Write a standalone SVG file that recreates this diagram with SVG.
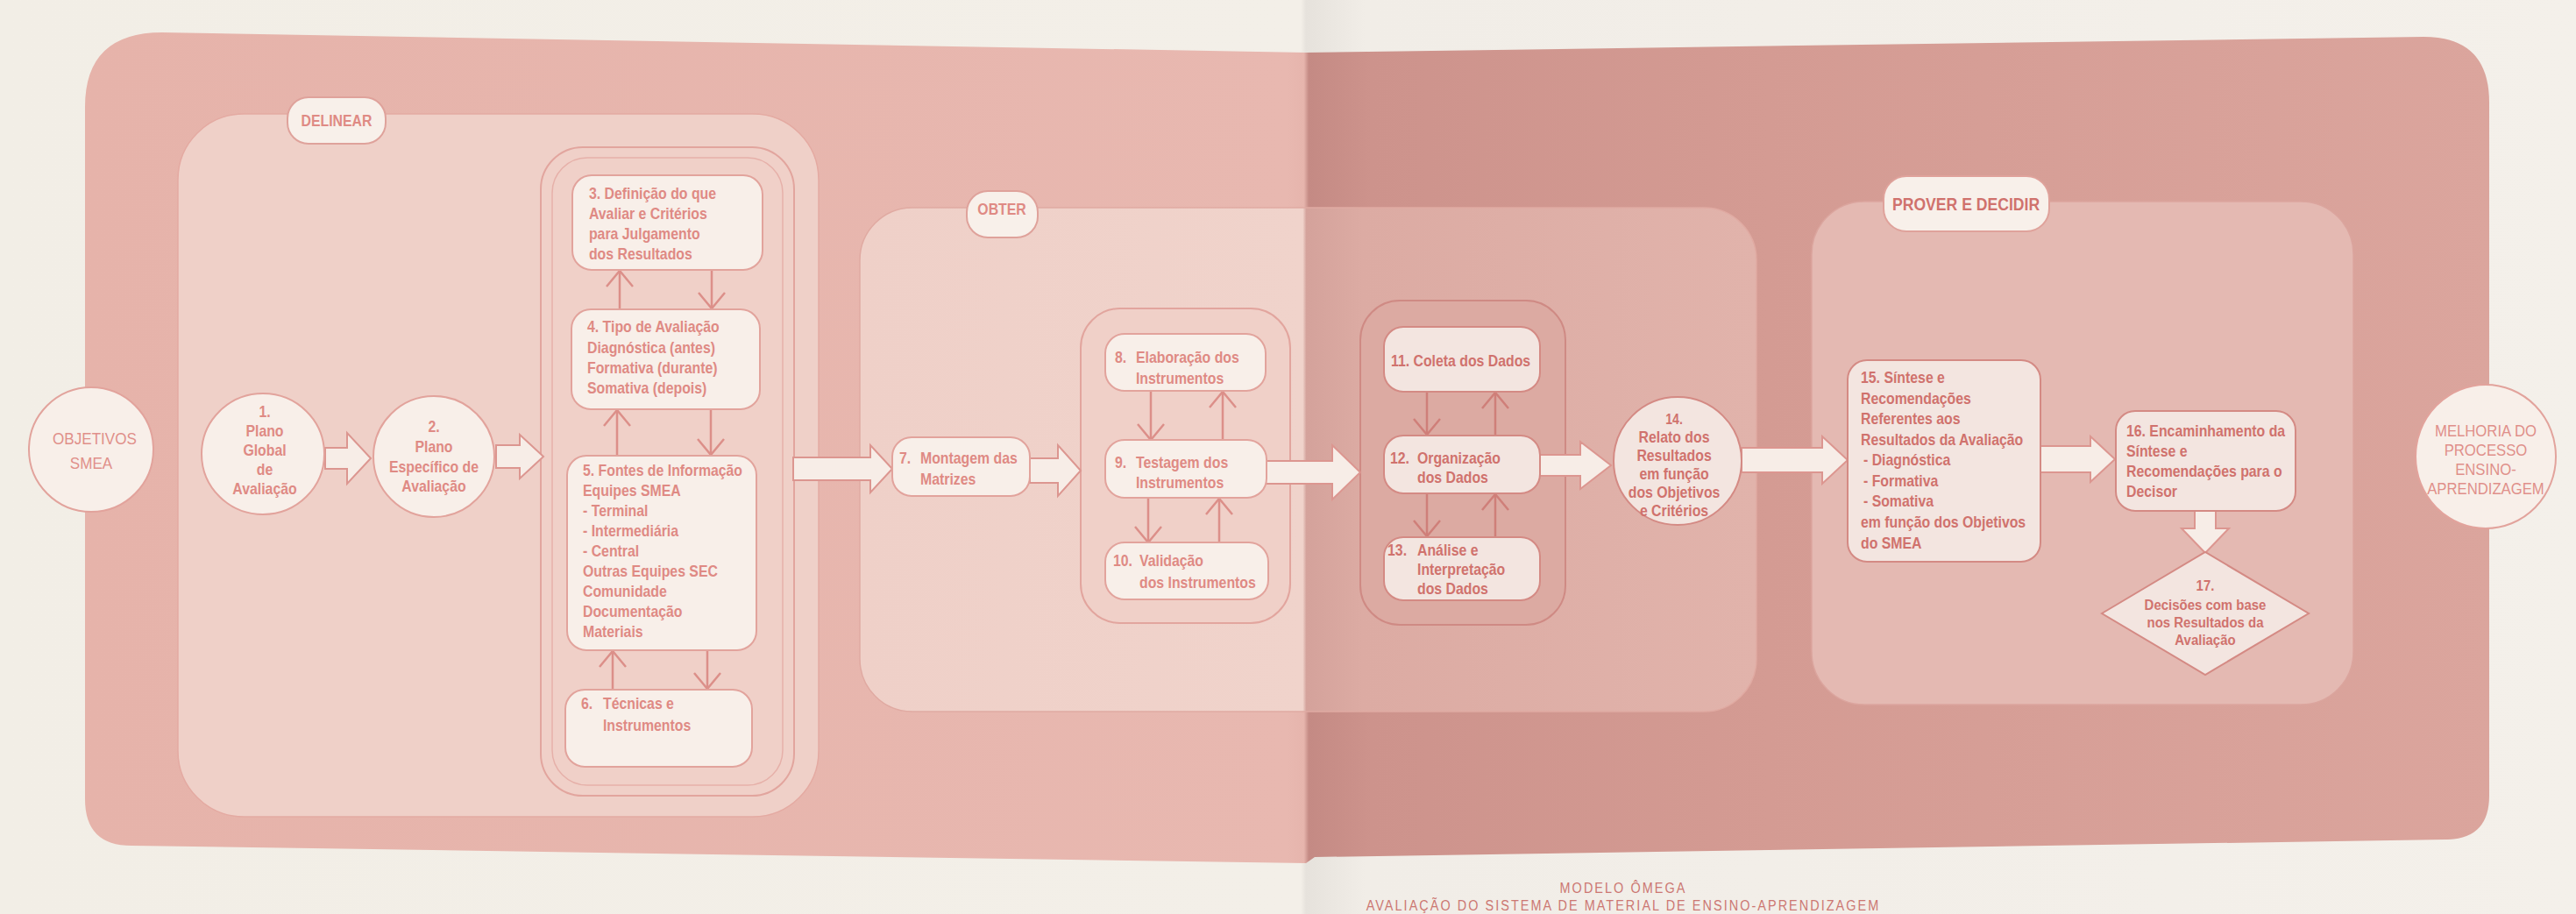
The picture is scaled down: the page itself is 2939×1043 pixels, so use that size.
<svg xmlns="http://www.w3.org/2000/svg" width="2939" height="1043" viewBox="0 0 2939 1043">
  <defs>
    <style>
      .t { font-family: "Liberation Sans", Arial, sans-serif; font-weight: bold; font-size: 18px; fill: #df8a84; }
      .tr { fill: #d0726d; }
      .c { text-anchor: middle; }
      .cap { font-family: "Liberation Sans", Arial, sans-serif; font-weight: normal; font-size: 19px; fill: #e08f8a; text-anchor: middle; }
      .foot { font-family: "Liberation Sans", Arial, sans-serif; font-size: 17px; fill: #cc7772; text-anchor: middle; letter-spacing: 2.4px; }
      .box { fill: #f8efe9; stroke: #e2a39c; stroke-width: 2; }
      .boxr { fill: #f3e5e0; stroke: #d48a84; stroke-width: 2; }
      .pill { fill: #f8f0ea; stroke: #dfa29b; stroke-width: 2; }
      .grp { fill: #f0d0c8; stroke: #e2a59e; stroke-width: 2; }
      .grpr { fill: #dcaaa2; stroke: #cf8a84; stroke-width: 2; }
      .blk { fill: #f7ede7; stroke: #dc9690; stroke-width: 2; stroke-linejoin: miter; }
      .thin { fill: none; stroke: #dc8f89; stroke-width: 2.5; marker-end: url(#chev); }
      .thinr { fill: none; stroke: #cf7f79; stroke-width: 2.5; marker-end: url(#chevr); }
    </style>
    <marker id="chev" viewBox="-22 -18 26 36" refX="0" refY="0" markerWidth="26" markerHeight="36" markerUnits="userSpaceOnUse" orient="auto">
      <path d="M-18,-15 L0,0 L-18,15" fill="none" stroke="#dc8f89" stroke-width="2.5"/>
    </marker>
    <marker id="chevr" viewBox="-22 -18 26 36" refX="0" refY="0" markerWidth="26" markerHeight="36" markerUnits="userSpaceOnUse" orient="auto">
      <path d="M-18,-15 L0,0 L-18,15" fill="none" stroke="#cf7f79" stroke-width="2.5"/>
    </marker>
    <!-- two printed pages meeting at the fold near x=1490 -->
    <linearGradient id="outerFill" gradientUnits="userSpaceOnUse" x1="97" y1="0" x2="2840" y2="0">
      <stop offset="0" stop-color="#e6b3aa"/>
      <stop offset="0.5" stop-color="#e8b8b0"/>
      <stop offset="0.507" stop-color="#e6b5ad"/>
      <stop offset="0.509" stop-color="#c48a84"/>
      <stop offset="0.535" stop-color="#cd938c"/>
      <stop offset="0.7" stop-color="#d49b93"/>
      <stop offset="1" stop-color="#dba59d"/>
    </linearGradient>
    <linearGradient id="obterFill" gradientUnits="userSpaceOnUse" x1="981" y1="0" x2="2004" y2="0">
      <stop offset="0" stop-color="#efd0c8"/>
      <stop offset="0.494" stop-color="#f0d3cb"/>
      <stop offset="0.498" stop-color="#d4a29b"/>
      <stop offset="0.56" stop-color="#dcaba3"/>
      <stop offset="1" stop-color="#e1b3ab"/>
    </linearGradient>
    <linearGradient id="paperFill" gradientUnits="userSpaceOnUse" x1="0" y1="0" x2="2939" y2="0">
      <stop offset="0" stop-color="#f2eee6"/>
      <stop offset="0.505" stop-color="#f3efe8"/>
      <stop offset="0.507" stop-color="#e6e2dc"/>
      <stop offset="0.53" stop-color="#f1ede7"/>
      <stop offset="1" stop-color="#f4f0ea"/>
    </linearGradient>
  </defs>

  <!-- paper -->
  <rect x="0" y="0" width="2939" height="1043" fill="url(#paperFill)"/>

  <!-- outer band -->
  <path id="outer" fill="url(#outerFill)" d="M185,37 L1490,60 L2765,42 Q2840,42 2840,117 L2840,908 Q2840,958 2790,958 L1500,978 L1490,985 L150,965 Q97,965 97,912 L97,122 Q97,37 185,37 Z"/>

  <!-- phase panels -->
  <g id="panels">
    <rect id="panel-delinear" x="203" y="130" width="731" height="802" rx="75" fill="#efd0c8" stroke="#e4aaa2" stroke-width="1.5"/>
    <rect id="panel-obter" x="981" y="237" width="1023" height="575" rx="60" fill="url(#obterFill)" stroke="#e0aaa2" stroke-width="1.5"/>
    <rect id="panel-prover" x="2067" y="230" width="618" height="574" rx="60" fill="#e4b9b2" stroke="#dba59e" stroke-width="1.5"/>
    <!-- sub-groups -->
    <rect id="group-3-6" x="617" y="168" width="289" height="740" rx="48" class="grp"/>
    <rect x="630" y="180" width="263" height="716" rx="40" fill="none" stroke="#e6b0a9" stroke-width="1.5"/>
    <rect id="group-8-10" x="1233" y="352" width="239" height="359" rx="45" class="grp"/>
    <rect id="group-11-13" x="1552" y="343" width="234" height="370" rx="45" class="grpr"/>
  </g>

  <!-- connectors -->
  <g id="connectors">
    <!-- block arrows along the main flow -->
    <path class="blk" d="M371,511 L396,511 L396,494 L423,523 L396,552 L396,535 L371,535 Z"/>
    <path class="blk" d="M566,508 L593,508 L593,496 L620,521 L593,546 L593,534 L566,534 Z"/>
    <path class="blk" d="M905,522 L993,522 L993,508 L1018,535 L993,562 L993,548 L905,548 Z"/>
    <path class="blk" d="M1175,523 L1207,523 L1207,508 L1233,537 L1207,566 L1207,551 L1175,551 Z"/>
    <path class="blk" d="M1442,526 L1520,526 L1520,508 L1552,539 L1520,570 L1520,552 L1442,552 Z"/>
    <path class="blk" d="M1757,519 L1803,519 L1803,504 L1838,531 L1803,558 L1803,543 L1757,543 Z"/>
    <path class="blk" d="M1987,511 L2079,511 L2079,498 L2108,525 L2079,552 L2079,539 L1987,539 Z"/>
    <path class="blk" d="M2328,509 L2385,509 L2385,498 L2413,524 L2385,550 L2385,539 L2328,539 Z"/>
    <path class="blk" d="M2504,583 L2504,603 L2489,603 L2516,631 L2543,603 L2528,603 L2528,583 Z"/>
    <!-- feedback pairs inside DELINEAR -->
    <line class="thin" x1="707" y1="353" x2="707" y2="309"/>
    <line class="thin" x1="812" y1="308" x2="812" y2="352"/>
    <line class="thin" x1="704" y1="520" x2="704" y2="468"/>
    <line class="thin" x1="811" y1="467" x2="811" y2="519"/>
    <line class="thin" x1="699" y1="787" x2="699" y2="743"/>
    <line class="thin" x1="807" y1="742" x2="807" y2="786"/>
    <!-- feedback pairs for the instruments -->
    <line class="thin" x1="1313" y1="446" x2="1313" y2="502"/>
    <line class="thin" x1="1395" y1="502" x2="1395" y2="447"/>
    <line class="thin" x1="1310" y1="568" x2="1310" y2="619"/>
    <line class="thin" x1="1391" y1="619" x2="1391" y2="569"/>
    <!-- feedback pairs for the data -->
    <line class="thinr" x1="1628" y1="447" x2="1628" y2="496"/>
    <line class="thinr" x1="1706" y1="497" x2="1706" y2="448"/>
    <line class="thinr" x1="1628" y1="563" x2="1628" y2="612"/>
    <line class="thinr" x1="1706" y1="613" x2="1706" y2="564"/>
  </g>

  <!-- phase labels (text is set narrow: x values are in the 0.88-scaled frame) -->
  <g id="label-delinear">
    <rect x="328" y="111" width="112" height="53" rx="24" class="pill"/>
    <g transform="scale(0.88 1)"><text x="436.4" y="144" class="t c">DELINEAR</text></g>
  </g>
  <g id="label-obter">
    <rect x="1103" y="218" width="81" height="53" rx="24" class="pill"/>
    <g transform="scale(0.88 1)"><text x="1298.9" y="245" class="t c">OBTER</text></g>
  </g>
  <g id="label-prover">
    <rect x="2149" y="201" width="189" height="63" rx="26" class="pill"/>
    <g transform="scale(0.88 1)"><text x="2548.9" y="240" class="t c tr" style="font-size:20px">PROVER E DECIDIR</text></g>
  </g>

  <!-- start and end -->
  <g id="node-objetivos">
    <ellipse cx="104" cy="513" rx="71" ry="71" class="box"/>
    <g transform="scale(0.9 1)">
      <text x="120" y="507" class="cap">OBJETIVOS</text>
      <text x="115.6" y="535" class="cap">SMEA</text>
    </g>
  </g>
  <g id="node-melhoria">
    <ellipse cx="2836" cy="521" rx="80" ry="82" class="box"/>
    <g transform="scale(0.88 1)">
      <text x="3222.7" y="498" class="cap">MELHORIA DO</text>
      <text x="3222.7" y="520" class="cap">PROCESSO</text>
      <text x="3222.7" y="542" class="cap">ENSINO-</text>
      <text x="3222.7" y="564" class="cap">APRENDIZAGEM</text>
    </g>
  </g>

  <!-- DELINEAR -->
  <g id="node-1">
    <ellipse cx="300" cy="518" rx="70" ry="69" class="box"/>
    <g transform="scale(0.88 1)">
      <text class="t c" x="343.2" y="476">1.</text>
      <text class="t c" x="343.2" y="498">Plano</text>
      <text class="t c" x="343.2" y="520">Global</text>
      <text class="t c" x="343.2" y="542">de</text>
      <text class="t c" x="343.2" y="564">Avaliação</text>
    </g>
  </g>
  <g id="node-2">
    <ellipse cx="495" cy="521" rx="69" ry="69" class="box"/>
    <g transform="scale(0.88 1)">
      <text class="t c" x="562.5" y="493">2.</text>
      <text class="t c" x="562.5" y="516">Plano</text>
      <text class="t c" x="562.5" y="539">Específico de</text>
      <text class="t c" x="562.5" y="561">Avaliação</text>
    </g>
  </g>
  <g id="node-3">
    <rect x="653" y="200" width="217" height="108" rx="22" class="box"/>
    <g transform="scale(0.88 1)">
      <text class="t" x="763.6" y="227">3. Definição do que</text>
      <text class="t" x="763.6" y="250">Avaliar e Critérios</text>
      <text class="t" x="763.6" y="273">para Julgamento</text>
      <text class="t" x="763.6" y="296">dos Resultados</text>
    </g>
  </g>
  <g id="node-4">
    <rect x="652" y="353" width="215" height="114" rx="22" class="box"/>
    <g transform="scale(0.88 1)">
      <text class="t" x="761.4" y="379">4. Tipo de Avaliação</text>
      <text class="t" x="761.4" y="403">Diagnóstica (antes)</text>
      <text class="t" x="761.4" y="426">Formativa (durante)</text>
      <text class="t" x="761.4" y="449">Somativa (depois)</text>
    </g>
  </g>
  <g id="node-5">
    <rect x="647" y="520" width="216" height="222" rx="22" class="box"/>
    <g transform="scale(0.88 1)">
      <text class="t" x="755.7" y="543">5. Fontes de Informação</text>
      <text class="t" x="755.7" y="566">Equipes SMEA</text>
      <text class="t" x="755.7" y="589">- Terminal</text>
      <text class="t" x="755.7" y="612">- Intermediária</text>
      <text class="t" x="755.7" y="635">- Central</text>
      <text class="t" x="755.7" y="658">Outras Equipes SEC</text>
      <text class="t" x="755.7" y="681">Comunidade</text>
      <text class="t" x="755.7" y="704">Documentação</text>
      <text class="t" x="755.7" y="727">Materiais</text>
    </g>
  </g>
  <g id="node-6">
    <rect x="645" y="787" width="213" height="88" rx="22" class="box"/>
    <g transform="scale(0.88 1)">
      <text class="t" x="753.4" y="809">6. <tspan x="781.8">Técnicas e</tspan></text>
      <text class="t" x="781.8" y="834">Instrumentos</text>
    </g>
  </g>

  <!-- OBTER -->
  <g id="node-7">
    <rect x="1018" y="499" width="157" height="67" rx="22" class="box"/>
    <g transform="scale(0.88 1)">
      <text class="t" x="1165.9" y="529">7. <tspan x="1193.2">Montagem das</tspan></text>
      <text class="t" x="1193.2" y="553">Matrizes</text>
    </g>
  </g>
  <g id="node-8">
    <rect x="1261" y="381" width="183" height="65" rx="22" class="box"/>
    <g transform="scale(0.88 1)">
      <text class="t" x="1445.5" y="414">8. <tspan x="1472.7">Elaboração dos</tspan></text>
      <text class="t" x="1472.7" y="438">Instrumentos</text>
    </g>
  </g>
  <g id="node-9">
    <rect x="1261" y="502" width="184" height="66" rx="22" class="box"/>
    <g transform="scale(0.88 1)">
      <text class="t" x="1445.5" y="534">9. <tspan x="1472.7">Testagem dos</tspan></text>
      <text class="t" x="1472.7" y="557">Instrumentos</text>
    </g>
  </g>
  <g id="node-10">
    <rect x="1261" y="619" width="186" height="65" rx="22" class="box"/>
    <g transform="scale(0.88 1)">
      <text class="t" x="1443.2" y="646">10. <tspan x="1477.3">Validação</tspan></text>
      <text class="t" x="1477.3" y="671">dos Instrumentos</text>
    </g>
  </g>
  <g id="node-11">
    <rect x="1579" y="373" width="178" height="74" rx="22" class="boxr"/>
    <g transform="scale(0.88 1)">
      <text class="t tr" x="1803.4" y="418">11. Coleta dos Dados</text>
    </g>
  </g>
  <g id="node-12">
    <rect x="1579" y="497" width="178" height="66" rx="22" class="boxr"/>
    <g transform="scale(0.88 1)">
      <text class="t tr" x="1802.3" y="529">12. <tspan x="1837.5">Organização</tspan></text>
      <text class="t tr" x="1837.5" y="551">dos Dados</text>
    </g>
  </g>
  <g id="node-13">
    <rect x="1579" y="613" width="178" height="72" rx="22" class="boxr"/>
    <g transform="scale(0.88 1)">
      <text class="t tr" x="1798.9" y="634">13. <tspan x="1837.5">Análise e</tspan></text>
      <text class="t tr" x="1837.5" y="656">Interpretação</text>
      <text class="t tr" x="1837.5" y="678">dos Dados</text>
    </g>
  </g>
  <g id="node-14">
    <ellipse cx="1914" cy="526" rx="73" ry="73" class="boxr"/>
    <g transform="scale(0.88 1)">
      <text class="t tr c" x="2170.5" y="484" style="font-size:16px">14.</text>
      <text class="t tr c" x="2170.5" y="505">Relato dos</text>
      <text class="t tr c" x="2170.5" y="526">Resultados</text>
      <text class="t tr c" x="2170.5" y="547">em função</text>
      <text class="t tr c" x="2170.5" y="568">dos Objetivos</text>
      <text class="t tr c" x="2170.5" y="589">e Critérios</text>
    </g>
  </g>

  <!-- PROVER E DECIDIR -->
  <g id="node-15">
    <rect x="2108" y="411" width="220" height="230" rx="22" class="boxr"/>
    <g transform="scale(0.88 1)">
      <text class="t tr" x="2412.5" y="437">15. Síntese e</text>
      <text class="t tr" x="2412.5" y="461">Recomendações</text>
      <text class="t tr" x="2412.5" y="484">Referentes aos</text>
      <text class="t tr" x="2412.5" y="508">Resultados da Avaliação</text>
      <text class="t tr" x="2415.9" y="531">- Diagnóstica</text>
      <text class="t tr" x="2415.9" y="555">- Formativa</text>
      <text class="t tr" x="2415.9" y="578">- Somativa</text>
      <text class="t tr" x="2412.5" y="602">em função dos Objetivos</text>
      <text class="t tr" x="2412.5" y="626">do SMEA</text>
    </g>
  </g>
  <g id="node-16">
    <rect x="2414" y="469" width="205" height="114" rx="22" class="boxr"/>
    <g transform="scale(0.88 1)">
      <text class="t tr" x="2756.8" y="498">16. Encaminhamento da</text>
      <text class="t tr" x="2756.8" y="521">Síntese e</text>
      <text class="t tr" x="2756.8" y="544">Recomendações para o</text>
      <text class="t tr" x="2756.8" y="567">Decisor</text>
    </g>
  </g>
  <g id="node-17">
    <polygon points="2398,700 2516,630 2634,700 2516,770" class="boxr"/>
    <g transform="scale(0.88 1)">
      <text class="t tr c" x="2859.1" y="674" style="font-size:17px">17.</text>
      <text class="t tr c" x="2859.1" y="696" style="font-size:17px">Decisões com base</text>
      <text class="t tr c" x="2859.1" y="716" style="font-size:17px">nos Resultados da</text>
      <text class="t tr c" x="2859.1" y="736" style="font-size:17px">Avaliação</text>
    </g>
  </g>

  <!-- title, set narrow (x in the 0.85-scaled frame) -->
  <g id="title" transform="scale(0.85 1)">
    <text class="foot" x="2178.8" y="1019">MODELO ÔMEGA</text>
    <text class="foot" x="2178.8" y="1039">AVALIAÇÃO DO SISTEMA DE MATERIAL DE ENSINO-APRENDIZAGEM</text>
  </g>
</svg>
